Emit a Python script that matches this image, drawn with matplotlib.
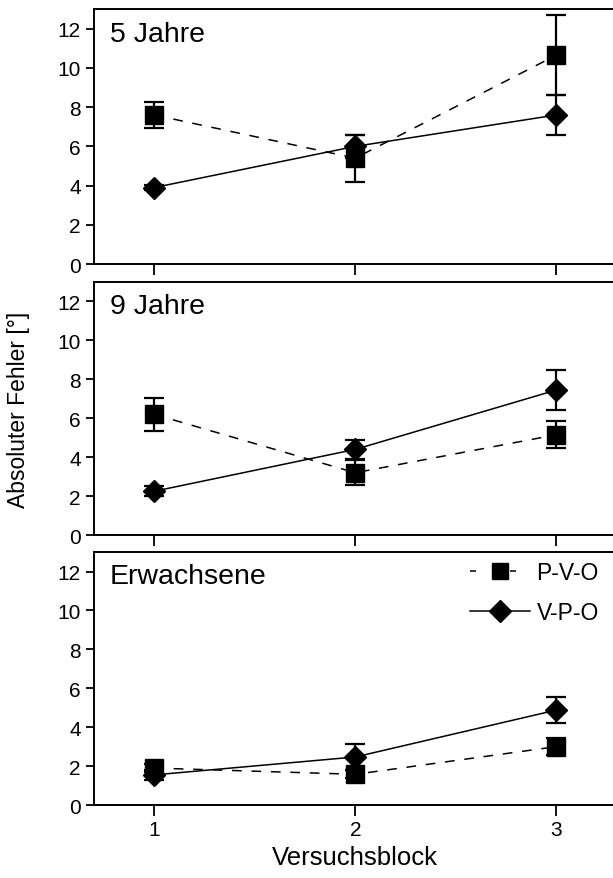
import numpy as np
import matplotlib.pyplot as plt
from matplotlib.lines import Line2D

plt.rcParams['font.family'] = ['Liberation Sans', 'DejaVu Sans']
plt.rcParams['lines.scale_dashes'] = False

blocks = [1, 2, 3]
panels = ["5 Jahre", "9 Jahre", "Erwachsene"]

# P-V-O (squares, dashed)
pvo_mean = [[7.6, 5.4, 10.65], [6.2, 3.2, 5.15], [1.9, 1.58, 3.0]]
pvo_err = [[0.64, 1.2, 2.05], [0.86, 0.65, 0.7], [0.2, 0.2, 0.45]]
# V-P-O (diamonds, solid)
vpo_mean = [[3.9, 6.0, 7.6], [2.25, 4.4, 7.45], [1.55, 2.47, 4.88]]
vpo_err = [[0.15, 0.6, 1.0], [0.25, 0.5, 1.05], [0.25, 0.65, 0.67]]

yticks = [0, 2, 4, 6, 8, 10, 12]

fig = plt.figure(figsize=(6.13, 8.79), dpi=100)
rects = [[0.1533, 0.6985, 0.8525, 0.290],
         [0.1533, 0.3902, 0.8525, 0.2878],
         [0.1533, 0.0830, 0.8525, 0.2878]]

dash = (0, (7, 7))
for i, r in enumerate(rects):
    ax = fig.add_axes(r)
    ax.errorbar(blocks, pvo_mean[i], yerr=pvo_err[i], color='black', ls=dash,
                lw=1.1, marker='s', ms=13, capsize=7, capthick=1.6, elinewidth=1.6)
    ax.errorbar(blocks, vpo_mean[i], yerr=vpo_err[i], color='black', ls='-',
                lw=1.1, marker='D', ms=11, capsize=7, capthick=1.6, elinewidth=1.6)
    ax.set_xlim(0.7, 3.3)
    ax.set_ylim(0, 13)
    ax.set_yticks(yticks)
    ax.set_xticks(blocks)
    ax.tick_params(axis='y', direction='out', length=6, width=1.3, labelsize=15, pad=3.5)
    ax.tick_params(axis='x', direction='out', length=8, width=1.3, labelsize=15, pad=3)
    for s in ax.spines.values():
        s.set_linewidth(1.4)
    ax.spines['right'].set_visible(False)
    if i < 2:
        ax.set_xticklabels([])
    else:
        ax.set_xlabel("Versuchsblock", fontsize=18.5, labelpad=4)
        handles = [Line2D([], [], color='black', lw=1.1, ls=(0, (4.3, 24.5)),
                          marker='s', ms=11),
                   Line2D([], [], color='black', lw=1.1, ls='-', marker='D', ms=11)]
        ax.legend(handles, ['P-V-O', 'V-P-O'], loc='upper right', frameon=False,
                  fontsize=16.5, handlelength=2.6, handletextpad=0.3,
                  labelspacing=0.75, borderpad=0, borderaxespad=0,
                  bbox_to_anchor=(0.966, 0.965))
    ax.text(0.03, 0.955, panels[i], transform=ax.transAxes, fontsize=20.5,
            va='top', ha='left')
    if i == 1:
        ax.set_ylabel("Absoluter Fehler [°]", fontsize=16.5)
        ax.yaxis.set_label_coords(-0.122, 0.5)

fig.savefig("out.png", dpi=100)
